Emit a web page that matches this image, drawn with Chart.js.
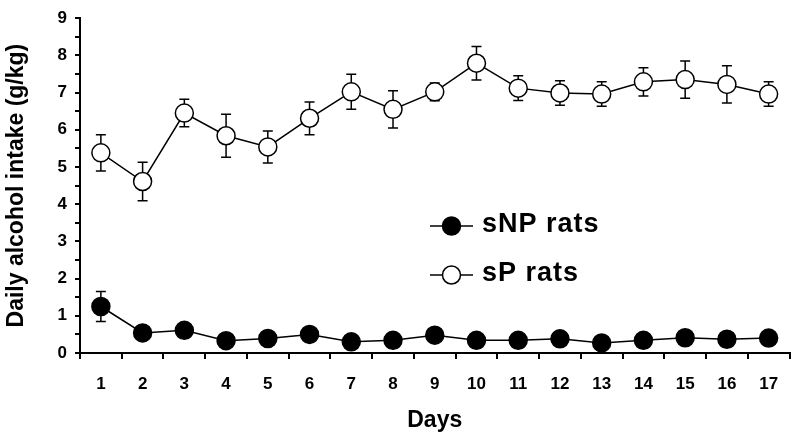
<!DOCTYPE html>
<html>
<head>
<meta charset="utf-8">
<script src="https://cdn.jsdelivr.net/npm/chart.js@4.4.1/dist/chart.umd.min.js"></script>
<style>
  html, body { margin: 0; padding: 0; background: #fff; }
  #wrap { width: 800px; height: 440px; }
</style>
</head>
<body>
<div id="wrap"><canvas id="chart" width="800" height="440"></canvas></div>
<script>
// data
const days = [1, 2, 3, 4, 5, 6, 7, 8, 9, 10, 11, 12, 13, 14, 15, 16, 17];

const snpMean = [1.25, 0.54, 0.61, 0.33, 0.39, 0.50, 0.30, 0.34, 0.48, 0.34, 0.34, 0.38, 0.27, 0.34, 0.41, 0.37, 0.40];
const snpSem  = [0.40, 0.08, 0.08, 0.06, 0.06, 0.07, 0.05, 0.05, 0.07, 0.05, 0.05, 0.05, 0.05, 0.05, 0.06, 0.05, 0.06];

const spMean = [5.38, 4.61, 6.45, 5.84, 5.54, 6.31, 7.02, 6.55, 7.02, 7.79, 7.12, 6.99, 6.96, 7.29, 7.35, 7.22, 6.96];
const spSem  = [0.49, 0.52, 0.37, 0.58, 0.43, 0.44, 0.47, 0.50, 0.24, 0.45, 0.33, 0.33, 0.33, 0.38, 0.50, 0.50, 0.33];

const seriesNames = ['sNP rats', 'sP rats'];

const yTitle = 'Daily alcohol intake (g/kg)';
const xTitle = 'Days';

Chart.defaults.font.family = '"Liberation Sans", Arial, sans-serif';
Chart.defaults.font.weight = 'bold';
Chart.defaults.color = '#000';

function pts(means) {
  return days.map((d, i) => ({ x: d, y: means[i] }));
}

// error bars, drawn under the markers
const errorBars = {
  id: 'errorBars',
  beforeDatasetsDraw(chart) {
    const ctx = chart.ctx;
    const xs = chart.scales.x, ys = chart.scales.y;
    ctx.save();
    ctx.strokeStyle = '#000';
    ctx.lineWidth = 1.5;
    chart.data.datasets.forEach(ds => {
      ds.data.forEach((p, i) => {
        const x = xs.getPixelForValue(p.x);
        const top = ys.getPixelForValue(p.y + ds.sem[i]);
        const bot = ys.getPixelForValue(p.y - ds.sem[i]);
        ctx.beginPath();
        ctx.moveTo(x, top); ctx.lineTo(x, bot);
        ctx.moveTo(x - 5, top); ctx.lineTo(x + 5, top);
        ctx.moveTo(x - 5, bot); ctx.lineTo(x + 5, bot);
        ctx.stroke();
      });
    });
    ctx.restore();
  }
};

// legend sitting inside the plot
const insideLegend = {
  id: 'insideLegend',
  afterDraw(chart) {
    const ctx = chart.ctx;
    const rows = [
      { ds: chart.data.datasets[0], y: 226 },
      { ds: chart.data.datasets[1], y: 275 }
    ];
    ctx.save();
    rows.forEach(r => {
      ctx.strokeStyle = '#000';
      ctx.lineWidth = 1.5;
      ctx.beginPath();
      ctx.moveTo(430, r.y); ctx.lineTo(473, r.y);
      ctx.stroke();
      ctx.beginPath();
      ctx.arc(451.5, r.y, 9, 0, Math.PI * 2);
      ctx.fillStyle = r.ds.pointBackgroundColor;
      ctx.fill();
      ctx.stroke();
      ctx.fillStyle = '#000';
      ctx.font = 'bold 27px "Liberation Sans", Arial, sans-serif';
      ctx.letterSpacing = '1px';
      ctx.textBaseline = 'middle';
      ctx.textAlign = 'left';
      ctx.fillText(r.ds.label, 482, r.y - 1);
    });
    ctx.restore();
  }
};

new Chart(document.getElementById('chart').getContext('2d'), {
  type: 'line',
  data: {
    datasets: [{
      label: seriesNames[0],
      data: pts(snpMean),
      sem: snpSem,
      borderColor: '#000',
      borderWidth: 1.5,
      pointRadius: 9,
      pointBorderWidth: 1.5,
      pointBackgroundColor: '#000',
      pointBorderColor: '#000',
      tension: 0
    }, {
      label: seriesNames[1],
      data: pts(spMean),
      sem: spSem,
      borderColor: '#000',
      borderWidth: 1.5,
      pointRadius: 9,
      pointBorderWidth: 1.5,
      pointBackgroundColor: '#fff',
      pointBorderColor: '#000',
      tension: 0
    }]
  },
  options: {
    responsive: false,
    animation: false,
    layout: { padding: { top: 13, right: 7, left: 0, bottom: 0 } },
    plugins: {
      legend: { display: false },
      tooltip: { enabled: false }
    },
    scales: {
      x: {
        type: 'linear',
        min: 0.5,
        max: 17.5,
        afterFit(scale) {
          scale.height = 87;
          scale.paddingLeft = 0;
          scale.paddingRight = 0;
        },
        ticks: {
          stepSize: 0.5,
          autoSkip: false,
          maxRotation: 0,
          padding: 15,
          font: { size: 17, weight: 'bold' },
          callback: v => Number.isInteger(v) ? v : ''
        },
        grid: {
          drawOnChartArea: false,
          tickLength: 6,
          lineWidth: 2,
          color: c => (c.tick && Number.isInteger(c.tick.value)) ? 'rgba(0,0,0,0)' : '#000'
        },
        border: { color: '#000', width: 2 },
        title: {
          display: true,
          text: xTitle,
          font: { size: 23, weight: 'bold' },
          padding: { top: 0, bottom: 6 }
        }
      },
      y: {
        min: 0,
        max: 9,
        afterFit(scale) { scale.width = 80; },
        ticks: {
          stepSize: 0.5,
          autoSkip: false,
          padding: 8,
          font: { size: 17, weight: 'bold' },
          callback: v => Number.isInteger(v) ? v : ''
        },
        grid: {
          drawOnChartArea: false,
          tickLength: 5,
          lineWidth: 2,
          color: '#000'
        },
        border: { color: '#000', width: 2 },
        title: {
          display: true,
          text: yTitle,
          font: { size: 23, weight: 'bold' },
          padding: { top: 3, bottom: 0 }
        }
      }
    }
  },
  plugins: [errorBars, insideLegend]
});
</script>
</body>
</html>
